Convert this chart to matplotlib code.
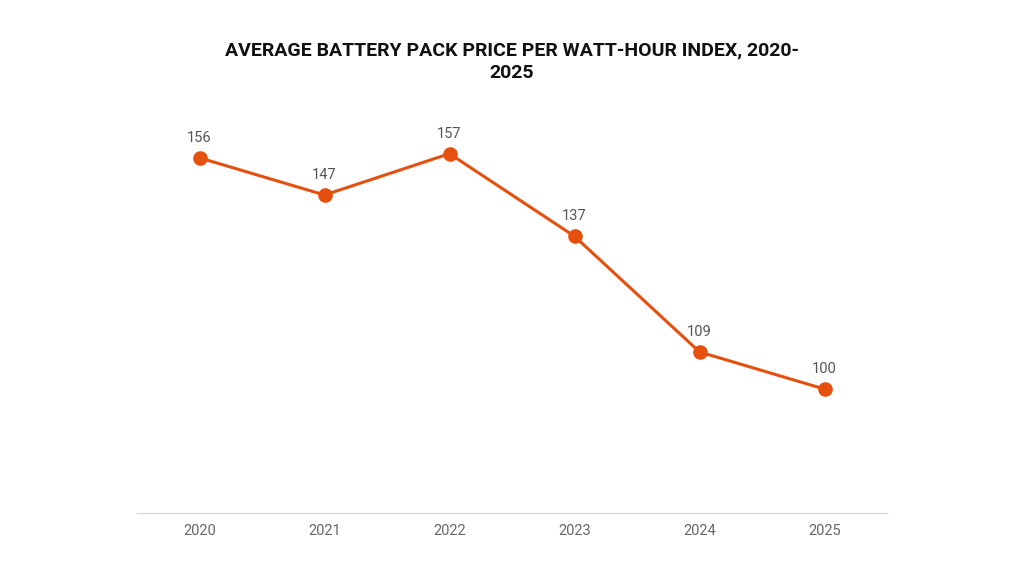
import matplotlib.pyplot as plt

years = ["2020", "2021", "2022", "2023", "2024", "2025"]
price_index = [156, 147, 157, 137, 109, 100]

plt.rcParams['font.family'] = ['Roboto', 'DejaVu Sans']

fig = plt.figure(figsize=(10.24, 5.76), dpi=100)
ax = fig.add_axes([137 / 1024, 1 - 513 / 576, 750 / 1024, 413 / 576])

x = list(range(len(years)))
ax.plot(x, price_index, color="#e6500e", lw=2.2, marker="o", ms=9.5, zorder=3)

for xi, v in zip(x, price_index):
    ax.annotate(str(v), (xi, v), xytext=(0, 20), textcoords="offset pixels",
                ha="center", va="center", fontsize=10.5, color="#555555")

ax.set_xlim(-0.5, len(years) - 0.5)
ax.set_ylim(70, 170)
ax.set_xticks(x)
ax.set_xticklabels(years, fontsize=10.5, color="#666666")
ax.set_yticks([])
ax.tick_params(axis="x", length=0, pad=8)

for s in ["top", "right", "left"]:
    ax.spines[s].set_visible(False)
ax.spines["bottom"].set_color("#d9d9d9")
ax.spines["bottom"].set_linewidth(1)

fig.text(0.5, 1 - 62 / 576, "AVERAGE BATTERY PACK PRICE PER WATT-HOUR INDEX, 2020-\n2025",
         ha="center", va="center", fontsize=14, fontweight="bold", color="#111111",
         linespacing=1.35)

fig.savefig("out.png", dpi=100)
